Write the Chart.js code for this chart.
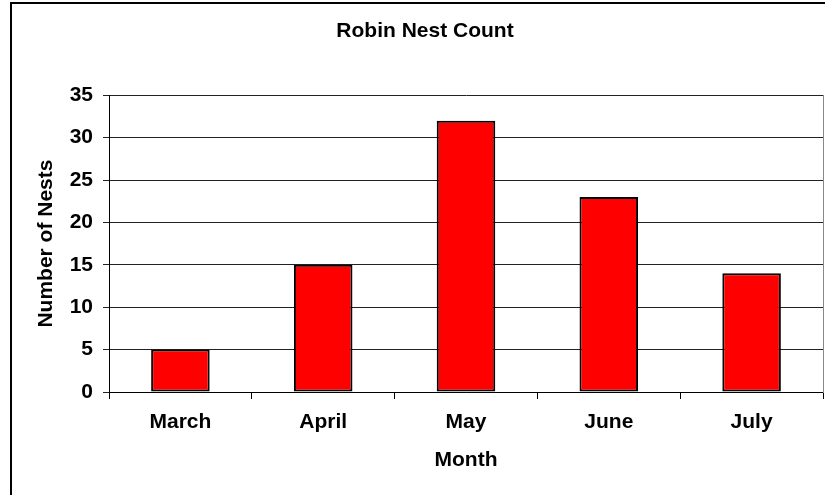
<!DOCTYPE html>
<html>
<head>
<meta charset="utf-8">
<title>Robin Nest Count</title>
<script src="https://cdn.jsdelivr.net/npm/chart.js@4/dist/chart.umd.min.js"></script>
<style>
  html, body { margin: 0; padding: 0; background: #fff; overflow: hidden; }
  #wrap { position: relative; width: 825px; height: 495px; }
  /* outer chart frame, runs off the right and bottom edges */
  #frame { position: absolute; left: 10px; top: 2px; width: 900px; height: 600px; border: 2px solid #000; }
  #nestChart { position: absolute; left: 0; top: 0; }
</style>
</head>
<body>
<div id="wrap">
  <div id="frame"></div>
  <canvas id="nestChart" width="825" height="495"></canvas>
</div>
<script>
const months = ["March", "April", "May", "June", "July"];
const nestCounts = [5, 15, 32, 23, 14];
const yMax = 35;
const yStep = 5;

const font = { family: "'Liberation Sans', Arial, sans-serif", size: 21, weight: "bold" };

const generateNestChart = () => {
  const ctx = document.getElementById("nestChart");
  new Chart(ctx, {
    type: "bar",
    data: {
      labels: months,
      datasets: [{
        label: "Nests",
        data: nestCounts,
        backgroundColor: "#ff0000",
        borderColor: "#000000",
        borderWidth: 2,
        borderSkipped: false,
        barPercentage: 0.41,
        categoryPercentage: 1
      }]
    },
    options: {
      responsive: false,
      animation: false,
      layout: { padding: { left: 27, right: 2, top: 0, bottom: 0 } },
      plugins: {
        legend: { display: false },
        tooltip: { enabled: false },
        title: {
          display: true,
          text: "Robin Nest Count",
          color: "#000",
          font: font,
          padding: { top: 19, bottom: 51 }
        }
      },
      scales: {
        x: {
          offset: true,
          grid: { drawOnChartArea: false, drawTicks: true, tickLength: 7, color: "#000", offset: true },
          border: { color: "#000", width: 1 },
          ticks: { color: "#000", font: font, padding: 11, maxRotation: 0 },
          title: { display: true, text: "Month", color: "#000", font: font, padding: { bottom: 22 } },
          afterFit: (scale) => { scale.height = 103; }
        },
        y: {
          min: 0,
          max: yMax,
          grid: { color: "#222", tickLength: 6 },
          border: { color: "#000", width: 1 },
          ticks: { stepSize: yStep, color: "#000", font: font, padding: 10 },
          title: { display: true, text: "Number of Nests", color: "#000", font: font, padding: { top: 7 } },
          afterFit: (scale) => { scale.width = 82; }
        },
        // right edge of the plot area
        yRight: {
          position: "right",
          min: 0,
          max: yMax,
          grid: { drawOnChartArea: false, drawTicks: false },
          border: { color: "#888", width: 1 },
          ticks: { display: false },
          afterFit: (scale) => { scale.width = 0; }
        }
      }
    }
  });
};

generateNestChart();
</script>
</body>
</html>
